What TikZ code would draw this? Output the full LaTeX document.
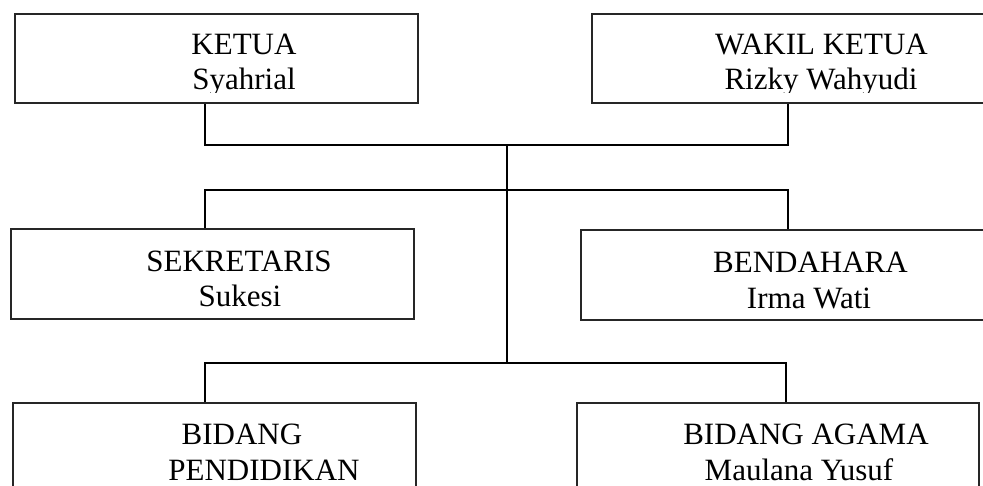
\documentclass[tikz,border=0pt]{standalone}
\usepackage{fontspec}
\setmainfont{Liberation Serif}
\begin{document}
\begin{tikzpicture}[x=1pt,y=-1pt,
  box/.style={draw=black!85,line width=1.5pt,rectangle,inner sep=0pt},
  conn/.style={draw=black,line width=1.5pt},
  lbl/.style={anchor=base,inner sep=0pt,font=\fontsize{31}{37}\selectfont}]
\useasboundingbox (0,0) rectangle (983,486);
% boxes
\node[box,minimum width=403pt,minimum height=89pt] (ketua) at (216.5,58.5) {};
\node[box,minimum width=408pt,minimum height=89pt] (wakil) at (796,58.5) {};
\node[box,minimum width=403pt,minimum height=90pt] (sek) at (212.5,274) {};
\node[box,minimum width=419pt,minimum height=90pt] (bend) at (790.5,275) {};
\node[box,minimum width=403pt,minimum height=117pt] (bpend) at (214.5,461.5) {};
\node[box,minimum width=402pt,minimum height=117pt] (bagama) at (778,461.5) {};
% texts (top row clipped just below the baseline, as in the reference)
\begin{scope}
\clip (ketua.north west) rectangle (ketua.east |- 0,93);
\node[lbl] (t-ketua) at (244,55) {KETUA};
\node[lbl] (n-ketua) at (244,90) {Syahrial};
\end{scope}
\begin{scope}
\clip (wakil.north west) rectangle (wakil.east |- 0,93);
\node[lbl] (t-wakil) at (821.5,55) {WAKIL KETUA};
\node[lbl] (n-wakil) at (821,90) {Rizky Wahyudi};
\end{scope}
\node[lbl] (t-sek) at (239,272) {SEKRETARIS};
\node[lbl] (n-sek) at (240,307) {Sukesi};
\node[lbl] (t-bend) at (810.5,273) {BENDAHARA};
\node[lbl] (n-bend) at (809,309) {Irma Wati};
\node[lbl] (t-bpend1) at (242,444) {BIDANG};
\node[lbl] (t-bpend2) at (264,480) {PENDIDIKAN};
\node[lbl] (t-bagama) at (806,444) {BIDANG AGAMA};
\node[lbl] (n-bagama) at (799,480) {Maulana Yusuf};
% junctions
\coordinate (t1) at (205,145);
\coordinate (t2) at (788,145);
\coordinate (m1) at (507,145);
\coordinate (m2) at (507,363);
\coordinate (h1) at (205,190);
\coordinate (h2) at (788,190);
\coordinate (b1) at (205,363);
\coordinate (b2) at (786,363);
% connectors
\draw[conn] (ketua.south -| t1) -- (t1) -- (t2) -- (wakil.south -| t2);
\draw[conn] (m1) -- (m2);
\draw[conn] (sek.north -| h1) -- (h1) -- (h2) -- (bend.north -| h2);
\draw[conn] (bpend.north -| b1) -- (b1) -- (b2) -- (bagama.north -| b2);
\end{tikzpicture}
\end{document}
